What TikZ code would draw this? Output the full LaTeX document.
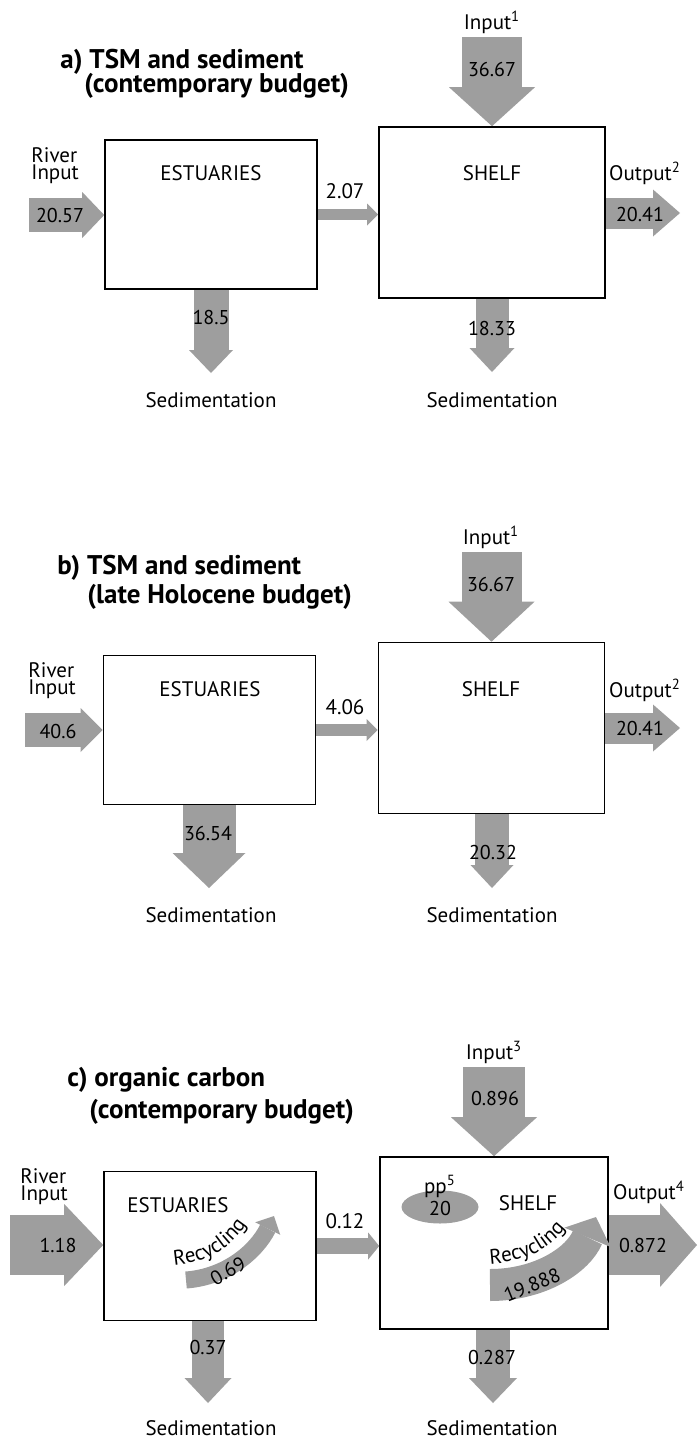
\documentclass[tikz,border=0pt]{standalone}
\usepackage{fontspec}
\setmainfont{PT Sans}
\usepackage{tikz}
\usetikzlibrary{arrows.meta}
\usetikzlibrary{shapes.geometric}
\usetikzlibrary{decorations.text}
\definecolor{flowgray}{gray}{0.62}
\newcommand{\lblfont}{\fontsize{10.5}{12}\selectfont}
\newcommand{\numfont}{\fontsize{10}{12}\selectfont}

\begin{document}
\begin{tikzpicture}
[x=0.5pt,y=-0.5pt
,esbox/.style={draw,line width=0.8pt,minimum width=106pt,minimum height=74.5pt,inner sep=0pt}
,shbox/.style={draw,line width=0.8pt,minimum width=113pt,minimum height=85.5pt,inner sep=0pt}
,lbl/.style={font=\lblfont,inner sep=0pt}
,num/.style={font=\numfont,inner sep=0pt}
,ttl/.style={font=\fontsize{13.5}{15}\selectfont\bfseries,anchor=west,inner sep=0pt}
,flow/.style n args={3}{draw=flowgray,line width=#1,arrows={-Triangle[width=#2,length=#3,line width=0pt]}}
,rectext/.style={decorate,decoration={text along path,text align=left,text={|\lblfont|Recycling}}}
]
\useasboundingbox (0,0) rectangle (697,1440);

% a) contemporary TSM budget
\node[ttl] (ttlA1) at (60,62) {a) TSM and sediment};
\node[ttl] (ttlA2) at (84,86) {(contemporary budget)};
\node[esbox] (estA) at (211,214.5) {};
\node[shbox] (shA) at (492,212.5) {};
\node[lbl] (estAt) at (211,173) {ESTUARIES};
\node[lbl] (shAt) at (492,173) {SHELF};
\node[lbl,align=left,anchor=west] (rivAt) at (31,166) {River\\[-3.6pt]Input};
\node[lbl] (inAt) at (492,22) {Input\textsuperscript{1}};
\node[lbl] (outAt) at (645,173) {Output\textsuperscript{2}};
\node[lbl] (sedEAt) at (211,400) {Sedimentation};
\node[lbl] (sedSAt) at (492,400) {Sedimentation};
\coordinate (rivA) at (29,215);
\coordinate (inA) at (492,37);
\coordinate (outA) at (680,213);
\coordinate (sedEA) at (211,373);
\coordinate (sedSA) at (492,372);
\draw[flow={17pt}{23pt}{11pt}] (rivA) -- (rivA -| estA.west);
\draw[flow={5.5pt}{11pt}{5.5pt}] (estA.east) -- (estA.east -| shA.west);
\draw[flow={15.5pt}{23.5pt}{13.5pt}] (outA -| shA.east) -- (outA);
\draw[flow={30pt}{43pt}{19.5pt}] (inA) -- (inA |- shA.north);
\draw[flow={17.5pt}{22pt}{11.5pt}] (sedEA |- estA.south) -- (sedEA);
\draw[flow={16.5pt}{22.5pt}{12pt}] (sedSA |- shA.south) -- (sedSA);
\node[num] (rivAn) at (60,215) {20.57};
\node[lbl] (midAn) at (345,191) {2.07};
\node[num] (outAn) at (640,214) {20.41};
\node[num] (inAn) at (492,69) {36.67};
\node[num] (sedEAn) at (211,317) {18.5};
\node[num] (sedSAn) at (492,328) {18.33};

% b) late Holocene TSM budget
\node[ttl] (ttlB1) at (57,568) {b) TSM and sediment};
\node[ttl] (ttlB2) at (87,597) {(late Holocene budget)};
\node[esbox] (estB) at (209.5,730) {};
\node[shbox] (shB) at (491.5,728) {};
\node[lbl] (estBt) at (210,689) {ESTUARIES};
\node[lbl] (shBt) at (491,689) {SHELF};
\node[lbl,align=left,anchor=west] (rivBt) at (28,681) {River\\[-3.6pt]Input};
\node[lbl] (inBt) at (491,537) {Input\textsuperscript{1}};
\node[lbl] (outBt) at (645,690) {Output\textsuperscript{2}};
\node[lbl] (sedEBt) at (211,915) {Sedimentation};
\node[lbl] (sedSBt) at (492,915) {Sedimentation};
\coordinate (rivB) at (25,730);
\coordinate (inB) at (491.5,552);
\coordinate (outB) at (680,728);
\coordinate (sedEB) at (209,888);
\coordinate (sedSB) at (492,888);
\draw[flow={17pt}{22pt}{11pt}] (rivB) -- (rivB -| estB.west);
\draw[flow={6pt}{11pt}{5.5pt}] (estB.east) -- (estB.east -| shB.west);
\draw[flow={15.5pt}{23.5pt}{13.5pt}] (outB -| shB.east) -- (outB);
\draw[flow={30pt}{43pt}{20pt}] (inB) -- (inB |- shB.north);
\draw[flow={26.5pt}{36.5pt}{17.5pt}] (sedEB |- estB.south) -- (sedEB);
\draw[flow={17pt}{21.5pt}{11.5pt}] (sedSB |- shB.south) -- (sedSB);
\node[num] (rivBn) at (58,731) {40.6};
\node[lbl] (midBn) at (345,707) {4.06};
\node[num] (outBn) at (640,728) {20.41};
\node[num] (inBn) at (491,584) {36.67};
\node[num] (sedEBn) at (208,833) {36.54};
\node[num] (sedSBn) at (493,852) {20.32};

% c) contemporary organic carbon budget
\node[ttl] (ttlC1) at (67,1080) {c) organic carbon};
\node[ttl] (ttlC2) at (89,1112) {(contemporary budget)};
\node[esbox] (estC) at (210,1246) {};
\node[shbox,minimum width=114pt,minimum height=86pt] (shC) at (494,1243) {};
\node[lbl] (estCt) at (178,1205) {ESTUARIES};
\node[lbl] (shCt) at (528,1203) {SHELF};
\node[lbl,align=left,anchor=west] (rivCt) at (20,1187) {River\\[-3.6pt]Input};
\node[lbl] (inCt) at (494,1052) {Input\textsuperscript{3}};
\node[lbl] (outCt) at (649,1192) {Output\textsuperscript{4}};
\node[lbl] (sedECt) at (211,1428) {Sedimentation};
\node[lbl] (sedSCt) at (492,1428) {Sedimentation};
\node[ellipse,fill=flowgray,minimum width=38.5pt,minimum height=16.5pt] (ppC) at (440,1207) {};
\node[lbl] (ppCt) at (440,1186) {pp\textsuperscript{5}};
\node[num] (ppCn) at (440,1208) {20};
\coordinate (rivC) at (10,1245);
\coordinate (inC) at (494,1067);
\coordinate (outC) at (697,1245);
\coordinate (sedEC) at (208,1403);
\coordinate (sedSC) at (493,1403);
\coordinate (recE1) at (186,1280);
\coordinate (recE2) at (274,1216);
\coordinate (recS1) at (490,1285);
\coordinate (recS2) at (596,1217);
\draw[flow={30pt}{41pt}{19.5pt}] (rivC) -- (rivC -| estC.west);
\draw[flow={8pt}{13.5pt}{5.5pt}] (estC.east) -- (estC.east -| shC.west);
\draw[flow={30pt}{42pt}{18.5pt}] (outC -| shC.east) -- (outC);
\draw[flow={31pt}{43pt}{19.5pt}] (inC) -- (inC |- shC.north);
\draw[flow={16pt}{23.5pt}{12.5pt}] (sedEC |- estC.south) -- (sedEC);
\draw[flow={17pt}{24pt}{12.5pt}] (sedSC |- shC.south) -- (sedSC);
\draw[flow={8.5pt}{14pt}{7pt}] (recE1) .. controls (226,1277) and (256,1252) .. (recE2);
\draw[flow={16pt}{25pt}{11pt}] (recS1) .. controls (540,1285) and (578,1260) .. (recS2);
\path[rectext] (174,1265) .. controls (212,1262) and (242,1244) .. (258,1200);
\path[rectext] (490,1264) .. controls (528,1262) and (562,1246) .. (578,1205);
\node[num] (rivCn) at (58,1245) {1.18};
\node[lbl] (midCn) at (345,1221) {0.12};
\node[num] (outCn) at (643,1245) {0.872};
\node[num] (inCn) at (495,1098) {0.896};
\node[num] (sedECn) at (208,1347) {0.37};
\node[num] (sedSCn) at (492,1357) {0.287};
\node[num,rotate=30] (recEn) at (228,1271) {0.69};
\node[num,rotate=22] (recSn) at (532,1285) {19.888};
\end{tikzpicture}
\end{document}
